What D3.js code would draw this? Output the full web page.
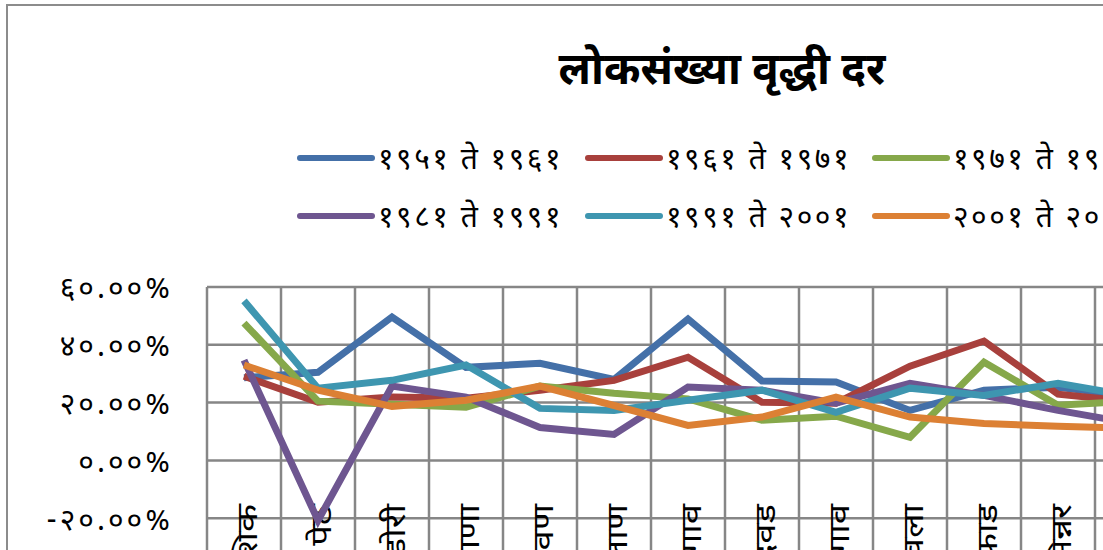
<html>
<head>
<meta charset="utf-8">
<title>lokasankhya</title>
<script src="https://cdn.jsdelivr.net/npm/d3@7"></script>
<style>
  body { margin: 0; background: #fff; }
  text { font-family: "Noto Sans Devanagari", "Lohit Devanagari", "Mangal", "Noto Sans", sans-serif; fill: #000; }
  .title { font-size: 44px; font-weight: bold; }
  .tick text { font-size: 30px; letter-spacing: 3px; }
  .legend text { font-size: 30px; letter-spacing: 2.5px; }
  .cat { font-size: 28px; }
</style>
</head>
<body>
<script>
// talukas (category axis), only the first 13 reach the visible area
var talukas = ['नाशिक','पेठ','दिंडोरी','सुरगाणा','कळवण','बागलाण','मालेगाव','चांदवड','नांदगाव','येवला','निफाड','सिन्नर','इगतपुरी'];
var seriesNames = ['१९५१ ते १९६१','१९६१ ते १९७१','१९७१ ते १९८१','१९८१ ते १९९१','१९९१ ते २००१','२००१ ते २०११'];
var colors = ['#4470a8','#a8403c','#86a84a','#6e5690','#3e96b0','#dc8034'];
var yTicks = [-0.4,-0.2,0,0.2,0.4,0.6];

// growth rate, percent
var g5161 = [28.6, 30.5, 49.6, 32.2, 33.6, 28.0, 48.9, 27.5, 27.1, 17.3, 24.3, 25.3, 22.2];
var g6171 = [29.1, 20.1, 21.9, 21.5, 24.3, 27.7, 35.7, 20.1, 19.8, 32.6, 41.3, 22.9, 20.3];
var g7181 = [47.5, 20.5, 19.4, 18.4, 25.7, 23.2, 21.3, 13.9, 15.3, 8.0, 34.0, 19.1, 20.5];
var g8191 = [34.7, -20.8, 25.7, 21.9, 11.4, 9.0, 25.4, 24.3, 19.8, 26.7, 22.5, 17.3, 12.8];
var g9101 = [55.2, 25.0, 27.7, 33.0, 18.0, 17.3, 20.8, 24.3, 16.6, 25.0, 22.5, 26.7, 22.2];
var g0111 = [33.0, 24.3, 18.7, 20.8, 25.7, 19.0, 12.1, 15.0, 21.9, 15.0, 12.8, 11.8, 11.1];
var allSeries = [g5161, g6171, g7181, g8191, g9101, g0111];

function toDev(s) {
  return s.replace(/−/g, '-').replace(/[0-9]/g, function(d) { return '०१२३४५६७८९'[+d]; });
}

var width = 1103, height = 550;
var svg = d3.select('body').append('svg')
  .attr('width', width).attr('height', height);

svg.append('rect').attr('width', width).attr('height', height).attr('fill', '#fff');

// chart border (runs off the picture on the right and bottom)
svg.append('rect')
  .attr('x', 7).attr('y', 5)
  .attr('width', 1200).attr('height', 700)
  .attr('fill', 'none').attr('stroke', '#8c8c8c').attr('stroke-width', 2);

svg.append('text')
  .attr('class', 'title')
  .attr('x', 722).attr('y', 84)
  .attr('text-anchor', 'middle')
  .text('लोकसंख्या वृद्धी दर');

var plotLeft = 207, plotTop = 287;
var x = d3.scaleBand().domain(talukas).range([plotLeft, plotLeft + 74 * talukas.length]);
var y = d3.scaleLinear().domain([-0.4, 0.6]).range([576, plotTop]);

var grid = svg.append('g');
grid.selectAll('.hg').data(yTicks).enter().append('line')
  .attr('x1', plotLeft).attr('x2', x.range()[1])
  .attr('y1', function(d) { return y(d); }).attr('y2', function(d) { return y(d); })
  .attr('stroke', '#868686').attr('stroke-width', 2.5);
grid.selectAll('.vg').data(talukas.concat(['_end'])).enter().append('line')
  .attr('x1', function(d, i) { return plotLeft + i * x.bandwidth(); })
  .attr('x2', function(d, i) { return plotLeft + i * x.bandwidth(); })
  .attr('y1', plotTop).attr('y2', y(-0.4))
  .attr('stroke', '#868686').attr('stroke-width', 2.5);

var yAxis = svg.append('g')
  .attr('transform', 'translate(' + plotLeft + ',0)')
  .call(d3.axisLeft(y).tickValues(yTicks).tickSize(0).tickPadding(34)
    .tickFormat(function(d) { return toDev(d3.format('.2%')(d)); }));
yAxis.select('.domain').remove();
yAxis.selectAll('text').attr('dy', '0.36em');

// category labels, rotated; stretched along the text like the original's wide font
svg.selectAll('.cat').data(talukas).enter().append('text')
  .attr('class', 'cat')
  .attr('text-anchor', 'end')
  .attr('transform', function(d) {
    return 'translate(' + (x(d) + x.bandwidth() / 2 + 13) + ',504) rotate(-90) scale(1.3,1)';
  })
  .text(function(d) { return d; });

var line = d3.line()
  .x(function(d, i) { return x(talukas[i]) + x.bandwidth() / 2; })
  .y(function(d) { return y(d / 100); });

svg.selectAll('.series').data(allSeries).enter().append('path')
  .attr('class', 'series')
  .attr('d', line)
  .attr('fill', 'none')
  .attr('stroke', function(d, i) { return colors[i]; })
  .attr('stroke-width', 7)
  .attr('stroke-linejoin', 'miter');

// legend, two rows of three
var legend = svg.append('g').attr('class', 'legend');
var lg = legend.selectAll('g').data(seriesNames).enter().append('g')
  .attr('transform', function(d, i) {
    return 'translate(' + [300, 588, 875][i % 3] + ',' + (i < 3 ? 158 : 216) + ')';
  });
lg.append('line')
  .attr('x1', 0).attr('x2', 72).attr('y1', 0).attr('y2', 0)
  .attr('stroke', function(d, i) { return colors[i]; })
  .attr('stroke-width', 6).attr('stroke-linecap', 'round');
lg.append('text')
  .attr('x', 78).attr('y', 0).attr('dy', '0.35em')
  .text(function(d) { return d; });
</script>
</body>
</html>
